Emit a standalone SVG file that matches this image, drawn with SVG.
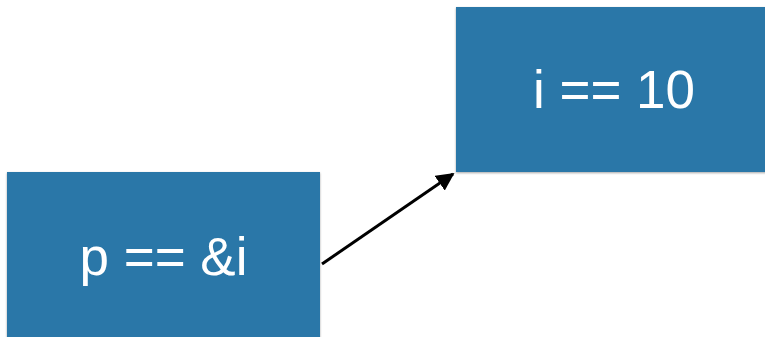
<svg xmlns="http://www.w3.org/2000/svg" width="765" height="337" viewBox="0 0 765 337">
<defs>
<filter id="sh" x="-5%" y="-5%" width="110%" height="110%"><feDropShadow dx="0" dy="1" stdDeviation="1" flood-color="#000" flood-opacity="0.35"/></filter>
<marker id="ah" viewBox="0 0 10 10" refX="9" refY="5" markerWidth="6" markerHeight="6" orient="auto" markerUnits="strokeWidth"><path d="M0,0 L10,5 L0,10 z" fill="#000"/></marker>
<style>
.box{fill:#2b77a8;filter:url(#sh)}
.lbl{font-family:"Liberation Sans",Arial,sans-serif;font-size:53px;fill:#fff;text-anchor:middle}
</style>
</defs>
<rect width="765" height="337" fill="#fff"/>
<g id="node-p">
<rect class="box" x="7" y="172" width="313" height="170"/>
<text class="lbl" x="163.5" y="275">p == &amp;i</text>
</g>
<g id="node-i">
<rect class="box" x="456" y="7" width="315" height="165"/>
<text class="lbl" x="614" y="108">i == 10</text>
</g>
<g id="connectors">
<line x1="322" y1="264" x2="453" y2="174" stroke="#000" stroke-width="3" marker-end="url(#ah)"/>
</g>
</svg>
